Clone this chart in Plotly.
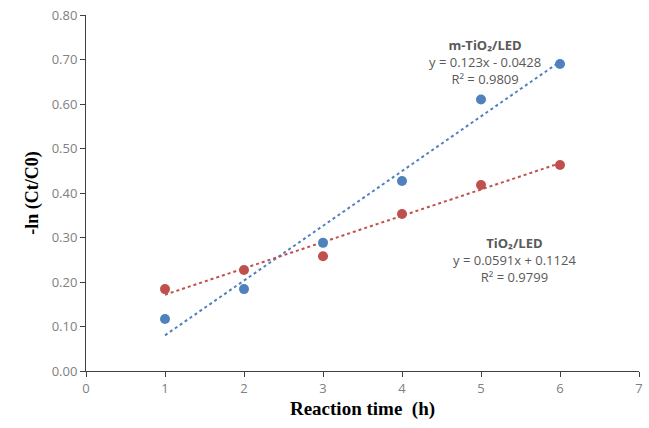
import numpy as np
import plotly.graph_objects as go

time_h = [1, 2, 3, 4, 5, 6]
m_tio2_led = [0.117, 0.184, 0.288, 0.427, 0.610, 0.690]
tio2_led = [0.184, 0.227, 0.258, 0.353, 0.418, 0.463]

# trendline coefficients (slope, intercept) as shown on the chart
m_fit = [0.123, -0.0428]
t_fit = [0.0591, 0.1124]

x_ticks = [0, 1, 2, 3, 4, 5, 6, 7]
y_ticks = [0.0, 0.1, 0.2, 0.3, 0.4, 0.5, 0.6, 0.7, 0.8]

blue = "#4F81BD"
red = "#C0504D"
txt = "#595959"

xt = np.array([time_h[0], time_h[-1]], dtype=float)

fig = go.Figure()
fig.add_trace(go.Scatter(x=xt, y=m_fit[0] * xt + m_fit[1], mode="lines",
                         line=dict(color=blue, width=2, dash="dot"), showlegend=False))
fig.add_trace(go.Scatter(x=xt, y=t_fit[0] * xt + t_fit[1], mode="lines",
                         line=dict(color=red, width=2, dash="dot"), showlegend=False))
fig.add_trace(go.Scatter(x=time_h, y=m_tio2_led, mode="markers",
                         marker=dict(color=blue, size=10), showlegend=False))
fig.add_trace(go.Scatter(x=time_h, y=tio2_led, mode="markers",
                         marker=dict(color=red, size=10), showlegend=False))

ann_font = dict(family="Open Sans, DejaVu Sans, sans-serif", size=13, color=txt)
annotations = [
    dict(x=5.05, y=0.695,
         text="<b>m-TiO₂/LED</b><br>y = 0.123x - 0.0428<br>R² = 0.9809"),
    dict(x=5.43, y=0.250,
         text="<b>TiO₂/LED</b><br>y = 0.0591x + 0.1124<br>R² = 0.9799"),
]
for a in annotations:
    a.update(xref="x", yref="y", showarrow=False, font=ann_font, xanchor="center",
             yanchor="middle", align="center")

fig.update_layout(
    width=649, height=428,
    margin=dict(l=86, r=6, t=15, b=57),
    paper_bgcolor="white", plot_bgcolor="white",
    annotations=annotations,
    xaxis=dict(range=[0, 7], tickvals=x_ticks, ticktext=[str(v) for v in x_ticks],
               showgrid=False, zeroline=False, showline=True, linecolor="#404040", linewidth=1,
               ticks="outside", ticklen=5, tickcolor="#404040",
               tickfont=dict(family="Open Sans, sans-serif", size=13, color="#808080"),
               title=dict(text="<b>Reaction time  (h)</b>", standoff=6,
                          font=dict(family="Liberation Serif, serif", size=19, color="black"))),
    yaxis=dict(range=[0, 0.8], tickvals=y_ticks, ticktext=[f"{v:.2f}" for v in y_ticks],
               showgrid=False, zeroline=False, showline=True, linecolor="#404040", linewidth=1,
               ticks="outside", ticklen=5, tickcolor="#404040",
               tickfont=dict(family="Open Sans, sans-serif", size=13, color="#808080"),
               title=dict(text="<b>-ln (Ct/C0)</b>", standoff=8,
                          font=dict(family="Liberation Serif, serif", size=18, color="black"))),
)

fig.write_html("out.html")
